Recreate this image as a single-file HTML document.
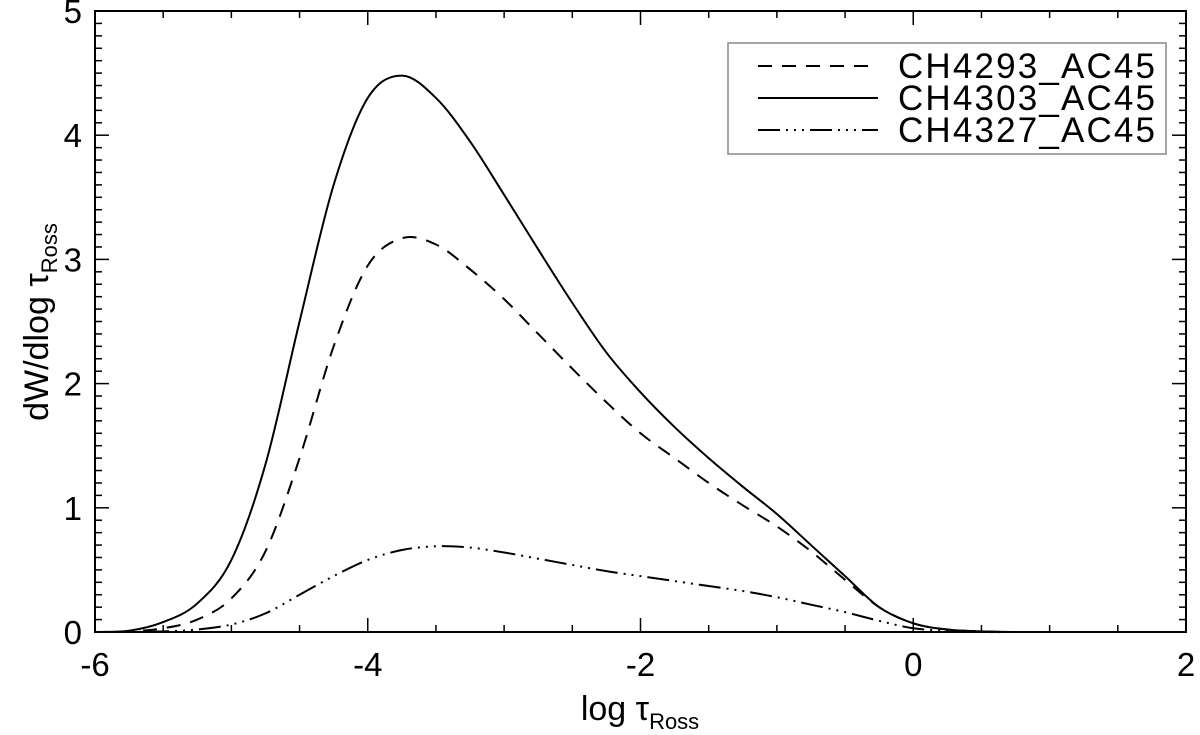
<!DOCTYPE html>
<html><head><meta charset="utf-8"><style>
body{margin:0;background:#fff;}
svg{display:block;font-family:"Liberation Sans",Arial,sans-serif;}
</style></head><body>
<svg id="chart" width="1200" height="735" viewBox="0 0 1200 735">
<g id="curves"></g>
<g id="axes"></g>
<text x="640" y="720" font-size="34" text-anchor="middle">log τ<tspan font-size="22" dy="9">Ross</tspan></text>
<text transform="translate(48,322) rotate(-90)" font-size="34" text-anchor="middle">dW/dlog τ<tspan font-size="22" dy="9">Ross</tspan></text>
<g>
<rect x="728" y="43" width="438" height="111" fill="#fff" stroke="#888" stroke-width="1.5"/>
<line x1="758" y1="66" x2="878" y2="66" stroke="#000" stroke-width="2" stroke-dasharray="14,10"/>
<text x="898" y="78" font-size="35" textLength="257">CH4293_AC45</text>
<line x1="758" y1="98" x2="878" y2="98" stroke="#000" stroke-width="2"/>
<text x="898" y="110" font-size="35" textLength="257">CH4303_AC45</text>
<line x1="758" y1="130" x2="878" y2="130" stroke="#000" stroke-width="2" stroke-dasharray="22,6,2,6,2,6,2,6"/>
<text x="898" y="142" font-size="35" textLength="257">CH4327_AC45</text>
</g>
</svg>
<script>
const xs=[-6,-5.75,-5.5,-5.25,-5,-4.75,-4.5,-4.25,-4,-3.75,-3.5,-3.25,-3,-2.75,-2.5,-2.25,-2,-1.75,-1.5,-1.25,-1,-0.75,-0.5,-0.25,0,0.25,0.5,0.75,1];
const ch4293=[0,0.005,0.03,0.1,0.27,0.65,1.4,2.3,2.95,3.17,3.12,2.92,2.68,2.4,2.12,1.85,1.6,1.4,1.2,1.02,0.85,0.65,0.42,0.2,0.07,0.02,0.005,0,0];
const ch4303=[0,0.01,0.08,0.23,0.58,1.35,2.5,3.6,4.3,4.48,4.3,3.95,3.52,3.08,2.65,2.25,1.93,1.65,1.4,1.17,0.95,0.7,0.45,0.2,0.07,0.02,0.005,0,0];
const ch4327=[0,0,0.005,0.02,0.06,0.15,0.3,0.45,0.58,0.66,0.69,0.68,0.64,0.59,0.54,0.49,0.45,0.41,0.37,0.33,0.28,0.22,0.16,0.09,0.03,0.01,0,0,0];
const xTicks=[-6,-4,-2,0,2];
const yTicks=[0,1,2,3,4,5];
const L=95,R=1186,T=11,B=632;
const X=v=>L+(v+6)/8*(R-L);
const Y=v=>B-v/5*(B-T);
const NS="http://www.w3.org/2000/svg";
function mk(tag,at,parent){const e=document.createElementNS(NS,tag);for(const k in at)e.setAttribute(k,at[k]);parent.appendChild(e);return e;}
function pathFor(ys){const p=xs.map((x,i)=>[X(x),Y(ys[i])]);let d="M"+p[0][0]+","+p[0][1];
for(let i=0;i<p.length-1;i++){const p0=p[i-1]||p[i],p1=p[i],p2=p[i+1],p3=p[i+2]||p2;
d+=" C"+(p1[0]+(p2[0]-p0[0])/6)+","+(p1[1]+(p2[1]-p0[1])/6)+" "+(p2[0]-(p3[0]-p1[0])/6)+","+(p2[1]-(p3[1]-p1[1])/6)+" "+p2[0]+","+p2[1];}return d;}
const cg=document.getElementById('curves');
let e;
e=mk('path',{d:pathFor(ch4293),fill:'none',stroke:'#000','stroke-width':2,'stroke-dasharray':'14,10'},cg);


e=mk('path',{d:pathFor(ch4303),fill:'none',stroke:'#000','stroke-width':2},cg);


e=mk('path',{d:pathFor(ch4327),fill:'none',stroke:'#000','stroke-width':2,'stroke-dasharray':'22,6,2,6,2,6,2,6'},cg);


const ag=document.getElementById('axes');
e=mk('rect',{x:L,y:T,width:R-L,height:B-T,fill:'none',stroke:'#000','stroke-width':2},ag);


for(let v=-6;v<=2.001;v+=0.5){const maj=Math.abs(v-Math.round(v/2)*2)<1e-6;const len=maj?14:7;
mk('line',{x1:X(v),x2:X(v),y1:B,y2:B-len,stroke:'#000','stroke-width':1.5},ag);
mk('line',{x1:X(v),x2:X(v),y1:T,y2:T+len,stroke:'#000','stroke-width':1.5},ag);}
for(let i=0;i<=50;i++){const v=i/10;const maj=i%10==0;const len=maj?14:7;
mk('line',{x1:L,x2:L+len,y1:Y(v),y2:Y(v),stroke:'#000','stroke-width':1.5},ag);
mk('line',{x1:R,x2:R-len,y1:Y(v),y2:Y(v),stroke:'#000','stroke-width':1.5},ag);}
xTicks.forEach(v=>{const t=mk('text',{x:X(v),y:676,'font-size':33,'text-anchor':'middle'},ag);t.textContent=v;

});
yTicks.forEach(v=>{const t=mk('text',{x:82,y:Y(v)+12,'font-size':33,'text-anchor':'end'},ag);t.textContent=v;

});
</script>
</body></html>
